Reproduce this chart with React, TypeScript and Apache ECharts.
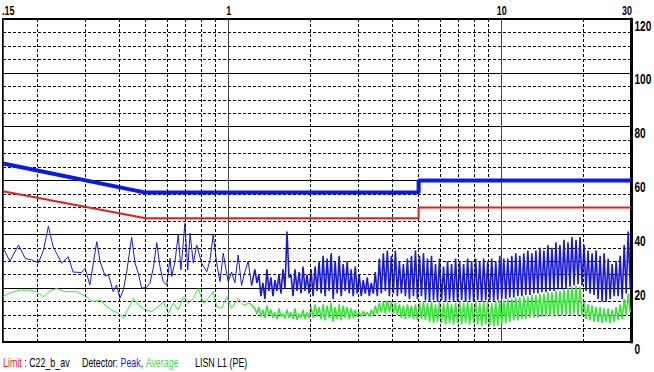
import React, { useEffect, useRef } from 'react';
import * as echarts from 'echarts';

// ---------- axis / grid definitions ----------
const X_MIN = 0.15;
const X_MAX = 30;
const X_TICKS = [0.15, 1, 10, 30];
const X_TICK_LABELS = ['.15', '1', '10', '30'];
const Y_MIN = 0;
const Y_MAX = 120;
const Y_STEP = 20;
const Y_TICKS = [0, 20, 40, 60, 80, 100, 120];
const MINOR_GRID_FREQS = [0.2, 0.3, 0.4, 0.5, 0.6, 0.7, 0.8, 0.9, 2, 3, 4, 5, 6, 7, 8, 9, 20];

// ---------- limit lines (C22_b) ----------
const QP_LIMIT: [number, number][] = [[0.15, 66.3], [0.5, 55.5], [5, 55.5], [5, 60], [30, 60]];
const AV_LIMIT: [number, number][] = [[0.15, 56], [0.5, 46], [5, 46], [5, 50], [30, 50]];

// ---------- peak trace, low-frequency part ----------
const PK_F = [0.150, 0.159, 0.171, 0.181, 0.191, 0.202, 0.211, 0.220, 0.229, 0.246, 0.260, 0.271, 0.291, 0.300, 0.312, 0.331, 0.340, 0.355, 0.365, 0.370, 0.380, 0.391, 0.402, 0.414, 0.426, 0.444, 0.457, 0.470, 0.483, 0.504, 0.518, 0.533, 0.549, 0.564, 0.580, 0.597, 0.614, 0.623, 0.640, 0.658, 0.673, 0.696, 0.713, 0.727, 0.747, 0.769, 0.802, 0.837, 0.860, 0.884, 0.910, 0.936, 0.962, 0.984, 1.003, 1.032, 1.061, 1.091, 1.122, 1.154, 1.187, 1.221];
const PK_V = [35, 30, 36, 31, 30.5, 29.3, 34, 43, 35.4, 29.3, 31.7, 26, 25.8, 27.4, 21.2, 37.3, 30, 24.5, 24.9, 23, 18.7, 21.2, 16.2, 19.3, 26.1, 38.9, 29.3, 25.5, 20, 20.3, 21.8, 27.4, 36.9, 28, 22.4, 21.2, 31.1, 24.3, 29.9, 39.8, 26.8, 44.1, 26.8, 40.4, 29.3, 36, 29.3, 26.1, 30.5, 39.8, 29.3, 22.4, 33, 27, 22.4, 26, 22, 32.3, 21, 26, 30, 21];

// ---------- average trace, low-frequency part ----------
const AV_F = [0.150, 0.159, 0.173, 0.188, 0.199, 0.211, 0.223, 0.236, 0.253, 0.279, 0.304, 0.321, 0.340, 0.360, 0.375, 0.397, 0.414, 0.432, 0.450, 0.470, 0.497, 0.526, 0.556, 0.580, 0.605, 0.631, 0.658, 0.687, 0.716, 0.747, 0.779, 0.813, 0.848, 0.884, 0.910, 0.949, 0.990, 1.032, 1.091, 1.138, 1.204];
const AV_V = [16.8, 18.3, 19.3, 19.3, 18.7, 16.8, 19, 19.9, 18.7, 18.7, 16.8, 15, 15.6, 13.1, 11.9, 10.7, 8.8, 12.5, 16.2, 13.8, 11.9, 11.3, 13.1, 15, 10.7, 14.4, 11.9, 16.8, 14.4, 16.2, 19.9, 14.4, 16.2, 18.8, 13.1, 12.5, 16.8, 12.5, 16.2, 13.8, 14.4];

// ---------- dense sweep (1.256 .. 29.8 MHz), one max/min pair per step ----------
const DENSE_F_START = 1.256;
const DENSE_F_STOP = 29.8;
const PK_HI = [27, 25, 22, 27, 24, 23, 25, 27, 41, 25, 27, 26, 28, 25, 27, 28, 30, 32, 31, 33, 30, 32, 29, 30, 27, 28, 25, 23, 24, 22, 26, 31, 33, 34, 32, 34, 30, 29, 31, 32, 34, 32, 33, 31, 32, 29, 31, 28, 30, 29, 31, 30, 29, 31, 30, 31, 30, 31, 30, 31, 30, 32, 31, 31, 32, 33, 32, 33, 34, 33, 34, 35, 34, 36, 35, 37, 36, 38, 37, 39, 38, 39, 36, 34, 33, 34, 32, 33, 31, 29, 30, 32, 36, 41];
const PK_LO = [22, 17, 16, 19, 17, 19, 18, 20, 24, 17, 19, 18, 19, 18, 17, 19, 18, 17, 19, 16, 18, 17, 19, 18, 17, 18, 17, 18, 17, 18, 17, 18, 19, 17, 18, 17, 18, 17, 16, 17, 16, 17, 15.5, 15, 15.5, 15, 15.5, 15, 15.5, 15, 15, 15.5, 15, 15.5, 15, 15.5, 15, 15.5, 15.5, 15, 15.5, 16, 16, 16.5, 16.5, 17, 17, 17.5, 17.5, 18, 18, 18.5, 18.5, 19, 19, 19.5, 19.5, 20, 20.5, 21, 21.5, 21, 19, 18, 17.5, 16, 15, 15, 16, 17, 17, 16, 18, 20];
const AV_HI = [12.5, 13, 12, 13.5, 12, 11, 12.5, 10.5, 12, 11, 12.5, 10.5, 12, 11, 13, 14, 13, 14, 13.5, 14.5, 13, 14, 13.5, 13, 12.5, 12, 11, 11.5, 11, 12, 13.5, 14.5, 15, 15.5, 15, 14.5, 14, 13.5, 14, 13.5, 14, 14.5, 15, 14.5, 15, 14, 15, 14.5, 15, 14, 14.5, 15, 14.5, 15, 14.5, 15, 14.5, 15, 15, 14.5, 15, 15.5, 15.5, 16, 16, 16.5, 16.5, 17, 17, 17.5, 17.5, 18, 18, 18.5, 18.5, 19, 19, 19.5, 20, 20.5, 21, 20.5, 15, 14, 13.5, 13, 13, 12.5, 12.5, 12, 13, 14, 16, 18];
const AV_LO = [10.5, 9.5, 9, 10, 9, 8.5, 9.5, 8.8, 9, 8.5, 8.2, 9, 8.5, 8.8, 9, 9.5, 8.5, 8, 9, 7.5, 8.5, 8, 9, 8.5, 9, 9.5, 9.5, 10, 9.5, 10, 10.5, 11, 10.5, 11, 10.5, 10, 9, 8.5, 9, 8.5, 8, 8.5, 8, 7.5, 7, 7.5, 7, 6.5, 7, 6.5, 7, 6.5, 7, 6.5, 7, 6.5, 6, 6.5, 6, 5.8, 6, 6.5, 7, 7.5, 8, 8, 8.5, 8.5, 9, 9, 9, 9.5, 9.5, 9.5, 9.5, 10, 10, 10, 10, 10.5, 10, 10, 8.5, 8, 7.5, 7.5, 7, 7.5, 7, 7.5, 8, 8.5, 10, 11];

// ---------- legend line (three groups, rich text) ----------
const LEGEND_GROUPS = [
  '{r|Limit}{k| : C22_b_av}',
  '{k|Detector: }{b|Peak}{k|, }{g|Average}',
  '{k|LISN L1 (PE)}',
];
const LEGEND_X = [3, 82, 195];

const FONT = '"Liberation Sans", Arial, sans-serif';
const PEAK_COLOR = '#1a1ad0';
const AVG_COLOR = '#3ee23e';
const QP_COLOR = '#0a18e8';
const AV_LIMIT_COLOR = '#e41e1e';

function sweepFreqs(count: number): number[] {
  const out: number[] = [];
  const ratio = DENSE_F_STOP / DENSE_F_START;
  for (let k = 0; k < count; k++) out.push(DENSE_F_START * Math.pow(ratio, k / (count - 1)));
  return out;
}

function sparsePart(fs: number[], vs: number[]): [number, number][] {
  return fs.map((f, i) => [f, vs[i]]);
}

// dense part starts from the last sparse point so the trace stays continuous
function densePart(fs: number[], vs: number[], hi: number[], lo: number[]): [number, number][] {
  const pts: [number, number][] = [[fs[fs.length - 1], vs[vs.length - 1]]];
  const grid = sweepFreqs(hi.length * 2);
  for (let i = 0; i < hi.length; i++) {
    pts.push([grid[2 * i], hi[i]]);
    pts.push([grid[2 * i + 1], lo[i]]);
  }
  return pts;
}

export default function App() {
  const ref = useRef<HTMLDivElement>(null);
  useEffect(() => {
    if (!ref.current) return;
    const chart = echarts.init(ref.current, null, { renderer: 'svg' });
    chart.setOption({
      animation: false,
      backgroundColor: '#ffffff',
      grid: { left: 3, right: 23, top: 19, bottom: 30, show: true, borderColor: '#000', borderWidth: 2, backgroundColor: 'transparent' },
      xAxis: {
        type: 'log',
        logBase: 10,
        min: X_MIN,
        max: X_MAX,
        position: 'top',
        axisLine: { show: true, lineStyle: { color: '#000', width: 2 } },
        axisTick: { show: false },
        axisLabel: { show: false },
        splitLine: { show: true, lineStyle: { color: '#444', width: 1 } },
      },
      yAxis: {
        type: 'value',
        min: Y_MIN,
        max: Y_MAX,
        interval: Y_STEP,
        position: 'right',
        axisLine: { show: true, lineStyle: { color: '#000', width: 3 } },
        axisTick: { show: false },
        axisLabel: { show: false },
        splitLine: { show: true, lineStyle: { color: '#000', width: 1 } },
        minorTick: { show: false, splitNumber: 4 },
        minorSplitLine: { show: true, lineStyle: { color: '#000', width: 1, type: [3, 2] } },
      },
      series: [
        {
          type: 'line',
          data: [],
          z: 1,
          silent: true,
          markLine: {
            silent: true,
            symbol: ['none', 'none'],
            label: { show: false },
            lineStyle: { color: '#000', width: 1, type: [3, 2] },
            data: MINOR_GRID_FREQS.map((f) => ({ xAxis: f })),
          },
        },
        { name: 'Peak', type: 'line', data: sparsePart(PK_F, PK_V), symbol: 'none', z: 3, lineStyle: { color: PEAK_COLOR, width: 1 } },
        { name: 'Peak', type: 'line', data: densePart(PK_F, PK_V, PK_HI, PK_LO), symbol: 'none', z: 3, lineStyle: { color: PEAK_COLOR, width: 1.6 } },
        { name: 'Average', type: 'line', data: sparsePart(AV_F, AV_V), symbol: 'none', z: 4, lineStyle: { color: AVG_COLOR, width: 1 } },
        { name: 'Average', type: 'line', data: densePart(AV_F, AV_V, AV_HI, AV_LO), symbol: 'none', z: 4, lineStyle: { color: AVG_COLOR, width: 1.6 } },
        { name: 'QP limit', type: 'line', data: QP_LIMIT, symbol: 'none', z: 6, lineStyle: { color: QP_COLOR, width: 4 } },
        { name: 'AV limit', type: 'line', data: AV_LIMIT, symbol: 'none', z: 5, lineStyle: { color: AV_LIMIT_COLOR, width: 2 } },
      ],
    });

    // Axis labels in a condensed look, placed through the axes' own scales.
    const gridTop = chart.convertToPixel({ yAxisIndex: 0 }, Y_MAX) as number;
    const gridRight = chart.convertToPixel({ xAxisIndex: 0 }, X_MAX) as number;
    const graphics: any[] = [];
    Y_TICKS.forEach((v) => {
      const py = chart.convertToPixel({ yAxisIndex: 0 }, v) as number;
      graphics.push({
        type: 'text', x: gridRight + 3.5, y: py, scaleX: 0.72, silent: true,
        style: { text: String(v), fill: '#000', fontSize: 14, fontWeight: 'bold', fontFamily: FONT, align: 'left', verticalAlign: 'top' },
      });
    });
    X_TICKS.forEach((v, i) => {
      const px = chart.convertToPixel({ xAxisIndex: 0 }, v) as number;
      const align = i === 0 ? 'left' : i === X_TICKS.length - 1 ? 'right' : 'center';
      graphics.push({
        type: 'text', x: i === 0 ? px - 1 : px + 1, y: gridTop - 3, scaleX: 0.75, silent: true,
        style: { text: X_TICK_LABELS[i], fill: '#000', fontSize: 12, fontWeight: 'bold', fontFamily: FONT, align, verticalAlign: 'bottom' },
      });
    });
    const rich = {
      r: { fill: AV_LIMIT_COLOR, fontSize: 12, fontFamily: FONT },
      k: { fill: '#000', fontSize: 12, fontFamily: FONT },
      b: { fill: PEAK_COLOR, fontSize: 12, fontFamily: FONT },
      g: { fill: AVG_COLOR, fontSize: 12, fontFamily: FONT },
    };
    LEGEND_GROUPS.forEach((t, i) => {
      graphics.push({
        type: 'text', x: LEGEND_X[i], y: 356, scaleX: 0.74, silent: true,
        style: { text: t, rich, fontSize: 12, fontFamily: FONT, align: 'left', verticalAlign: 'top' },
      });
    });
    chart.setOption({ graphic: graphics });
    return () => chart.dispose();
  }, []);
  return <div ref={ref} style={{ position: 'fixed', left: 0, top: 0, width: 654, height: 372, background: '#fff' }} />;
}
